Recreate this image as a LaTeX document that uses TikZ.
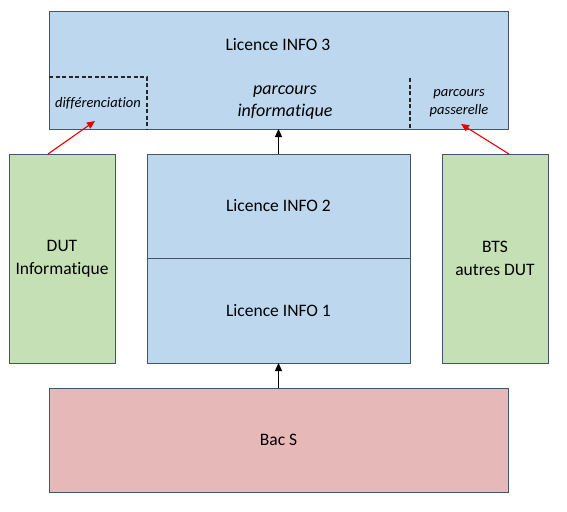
\documentclass[tikz,border=0pt]{standalone}
\usepackage{fontspec}
\setmainfont{Carlito}[Ligatures=NoCommon]
\usepackage{xcolor}
\usetikzlibrary{positioning,arrows.meta}

\definecolor{bleu}{HTML}{BDD7EE}
\definecolor{vert}{HTML}{C5E0B4}
\definecolor{rose}{HTML}{E6B8B7}
\definecolor{bord}{HTML}{44546A}

\begin{document}
\begin{tikzpicture}[x=1pt,y=-1pt,inner sep=0pt,outer sep=0pt,
    bloc/.style={draw=bord,line width=1pt,rectangle,align=center,font=\fontsize{17.5}{23}\selectfont},
    large/.style={minimum width=459pt},
    etroit/.style={minimum width=106pt,minimum height=209pt,fill=vert},
    texte/.style={align=center,font=\fontsize{14.5}{18}\selectfont\itshape},
    pointille/.style={draw=black!85,line width=1.3pt,dash pattern=on 4pt off 2.5pt},
    fleche/.style={-{Triangle[length=8pt,width=7pt]},line width=1.2pt},
    rouge/.style={-{Triangle[length=8pt,width=7pt]},draw=red!90!black,line width=1.1pt}]
    \useasboundingbox (0,0) rectangle (567,511);
    \node[bloc,large,fill=bleu,minimum height=117pt,anchor=north west] (l3) at (49,12) {};
    \node[bloc,fill=bleu,minimum width=263pt,minimum height=104pt,anchor=north west] (l2) at (147,154) {Licence INFO 2};
    \node[bloc,fill=bleu,minimum width=263pt,minimum height=105pt] (l1) [below=0pt of l2] {Licence INFO 1};
    \node[bloc,etroit,anchor=north west] (dut) at (9,154) {DUT\\Informatique};
    \node[bloc,etroit,anchor=north west] (bts) at (442,154) {BTS\\autres DUT};
    \node[bloc,large,fill=rose,minimum height=104pt,anchor=north west] (bac) at (49,388) {Bac S};
    % licence 3 et ses parcours
    \node[font=\fontsize{17.5}{18}\selectfont] (titre3) at (278,45) {Licence INFO 3};
    \node[texte,font=\fontsize{18}{22}\selectfont\itshape] (info) at (285,103) {parcours\\informatique};
    \node[texte] (diff) at (98,103) {différenciation};
    \node[texte] (pass) at (459,103) {parcours\\passerelle};
    \coordinate (g1) at (49,77);
    \coordinate (g2) at (147,77);
    \coordinate (g3) at (147,129);
    \coordinate (d1) at (410,78);
    \coordinate (d2) at (410,129);
    \draw[pointille] (g1) -- (g2) -- (g3);
    \draw[pointille] (d1) -- (d2);
    % fleches
    \draw[fleche] (bac.north) -- (l1.south);
    \draw[fleche] (l2.north) -- (l3.south);
    \coordinate (c1) at (95,121);
    \coordinate (c2) at (461,124);
    \draw[rouge] ([xshift=39pt]dut.north west) -- (c1);
    \draw[rouge] ([xshift=67pt]bts.north west) -- (c2);
\end{tikzpicture}
\end{document}
